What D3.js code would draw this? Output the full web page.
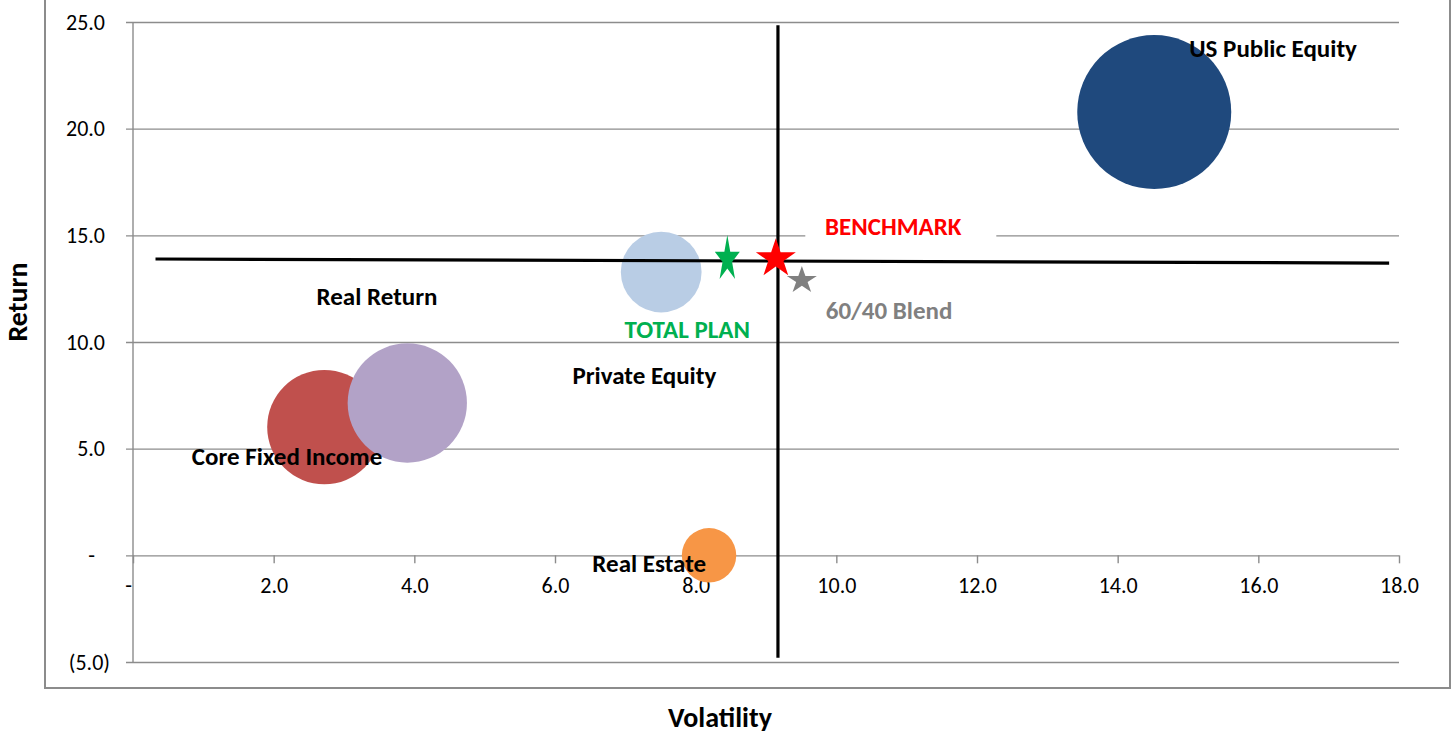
<!DOCTYPE html>
<meta charset="utf-8">

<style>
  body { margin: 0; background: #fff; }
  text { font-family: Carlito, Calibri, Lato, "Open Sans", sans-serif; }
  .grid line { stroke: #8c8c8c; stroke-width: 1.4px; }
  .grid .tick text { font-size: 22px; fill: #000; }
  .lbl { font-size: 25px; font-weight: bold; }
  .title { font-size: 28px; font-weight: bold; }
</style>

<svg width="1455" height="732"></svg>

<script src="https://d3js.org/d3.v7.min.js"></script>
<script>
// ====================================================================
// asset classes (bubbles)
const classes   = ["US Public Equity", "Core Fixed Income", "Real Return", "Private Equity", "Real Estate"]
const classVol  = [14.52, 2.72, 3.90, 7.51, 8.19]
const classRet  = [20.78, 6.01, 7.14, 13.28, 0.0]
const classSize = [40, 22, 24, 11, 5]
const classColor = ["#1f497d", "#c0504d", "#b2a2c7", "#b9cde5", "#f79646"]

// portfolio points (stars)
const points    = ["TOTAL PLAN", "BENCHMARK", "60/40 Blend"]
const pointVol  = [8.45, 9.14, 9.51]
const pointRet  = [13.88, 13.91, 12.89]
const pointColor = ["#00b050", "#ff0000", "#808080"]

// crosshair through the benchmark
const hLine = [[0.32, 13.89], [17.86, 13.70]]
const vLine = [[9.17, 24.85], [9.17, -4.8]]

// axis ticks
const xTicks = [0, 2, 4, 6, 8, 10, 12, 14, 16, 18]
const yTicks = [-5, 0, 5, 10, 15, 20, 25]

// where the data labels sit (in data units)
const classLabelAt = [[16.21, 23.78], [2.19, 4.65], [3.47, 12.15], [7.27, 8.45], [7.34, -0.36]]
const pointLabelAt = [[7.88, 10.61], [10.81, 15.44], [10.75, 11.5]]

// ====================================================================
const svg = d3.select("svg")

const x = d3.scaleLinear().domain([0, 18]).range([133, 1399])
const y = d3.scaleLinear().domain([-5, 25]).range([662, 22])
const r = d3.scaleSqrt().domain([0, 40]).range([0, 77])

// outer chart frame
svg.append("rect")
    .attr("x", 45).attr("y", -10)
    .attr("width", 1405).attr("height", 698)
    .attr("fill", "none")
    .attr("stroke", "#8c8c8c")
    .attr("stroke-width", 2)

const fmtY = (d) => d === 0 ? "-" : d < 0 ? "(" + d3.format(".1f")(-d) + ")" : d3.format(".1f")(d)

// horizontal gridlines + y tick labels
const yAxis = svg.append("g")
    .attr("class", "grid")
    .attr("transform", "translate(126,0)")
    .call(d3.axisLeft(y).tickValues(yTicks).tickSize(-(1399 - 126)).tickFormat(fmtY))
yAxis.select(".domain").remove()
yAxis.selectAll(".tick text")
    .attr("x", (d) => d === 0 ? -31 : d < 0 ? -16 : -21)

// vertical axis line
svg.append("line")
    .attr("x1", 133).attr("x2", 133)
    .attr("y1", y(25)).attr("y2", y(-5))
    .attr("stroke", "#8c8c8c").attr("stroke-width", 1.4)

// x axis ticks and labels at return = 0
const xAxis = svg.append("g")
    .attr("class", "grid")
    .attr("transform", `translate(0,${y(0)})`)
    .call(d3.axisBottom(x).tickValues(xTicks).tickSize(8).tickPadding(14)
        .tickFormat((d) => d === 0 ? "-" : d3.format(".1f")(d)))
xAxis.select(".domain").remove()
xAxis.selectAll(".tick text").attr("dx", (d) => d === 0 ? -5 : 0)

// axis titles
svg.append("text")
    .attr("class", "title")
    .attr("transform", "translate(27,302) rotate(-90)")
    .attr("text-anchor", "middle")
    .text("Return")

svg.append("text")
    .attr("class", "title")
    .attr("x", 720).attr("y", 727)
    .attr("text-anchor", "middle")
    .text("Volatility")

// bubbles
const bubbles = classes.map((name, i) => ({
    name, vol: classVol[i], ret: classRet[i], size: classSize[i], color: classColor[i], at: classLabelAt[i]
}))

svg.append("g")
    .selectAll("circle")
    .data(bubbles)
    .enter()
    .append("circle")
    .attr("cx", (d) => x(d.vol))
    .attr("cy", (d) => y(d.ret))
    .attr("r", (d) => r(d.size))
    .attr("fill", (d) => d.color)

// crosshair
const line = d3.line().x((d) => x(d[0])).y((d) => y(d[1]))
svg.append("path").attr("d", line(hLine)).attr("stroke", "#000").attr("stroke-width", 3.2).attr("fill", "none")
svg.append("path").attr("d", line(vLine)).attr("stroke", "#000").attr("stroke-width", 3.2).attr("fill", "none")

// stars, each stretched a little differently like the original markers
const starR = 10
const starPath = d3.symbol(d3.symbolStar, starR * starR / 0.8908130915292852)()
const starW = [25, 40, 30]
const starH = [44, 37, 26]
const stars = points.map((name, i) => ({
    name, vol: pointVol[i], ret: pointRet[i], color: pointColor[i], at: pointLabelAt[i],
    sx: starW[i] / (starR * 1.902), sy: starH[i] / (starR * 1.809)
}))

svg.append("g")
    .selectAll("path")
    .data(stars)
    .enter()
    .append("path")
    .attr("d", starPath)
    .attr("transform", (d) => `translate(${x(d.vol)},${y(d.ret)}) scale(${d.sx},${d.sy})`)
    .attr("fill", (d) => d.color)

// white box behind the benchmark label
const bm = stars[1]
svg.append("rect")
    .attr("x", x(bm.at[0]) - 88).attr("y", y(bm.at[1]) - 16)
    .attr("width", 191).attr("height", 32)
    .attr("fill", "#fff")

// labels
svg.append("g")
    .selectAll("text")
    .data(bubbles)
    .enter()
    .append("text")
    .attr("class", "lbl")
    .attr("x", (d) => x(d.at[0]))
    .attr("y", (d) => y(d.at[1]))
    .attr("dy", "0.35em")
    .attr("text-anchor", "middle")
    .attr("fill", "#000")
    .text((d) => d.name)

svg.append("g")
    .selectAll("text")
    .data(stars)
    .enter()
    .append("text")
    .attr("class", "lbl")
    .attr("x", (d) => x(d.at[0]))
    .attr("y", (d) => y(d.at[1]))
    .attr("dy", "0.35em")
    .attr("text-anchor", "middle")
    .attr("fill", (d) => d.color)
    .text((d) => d.name)
</script>
